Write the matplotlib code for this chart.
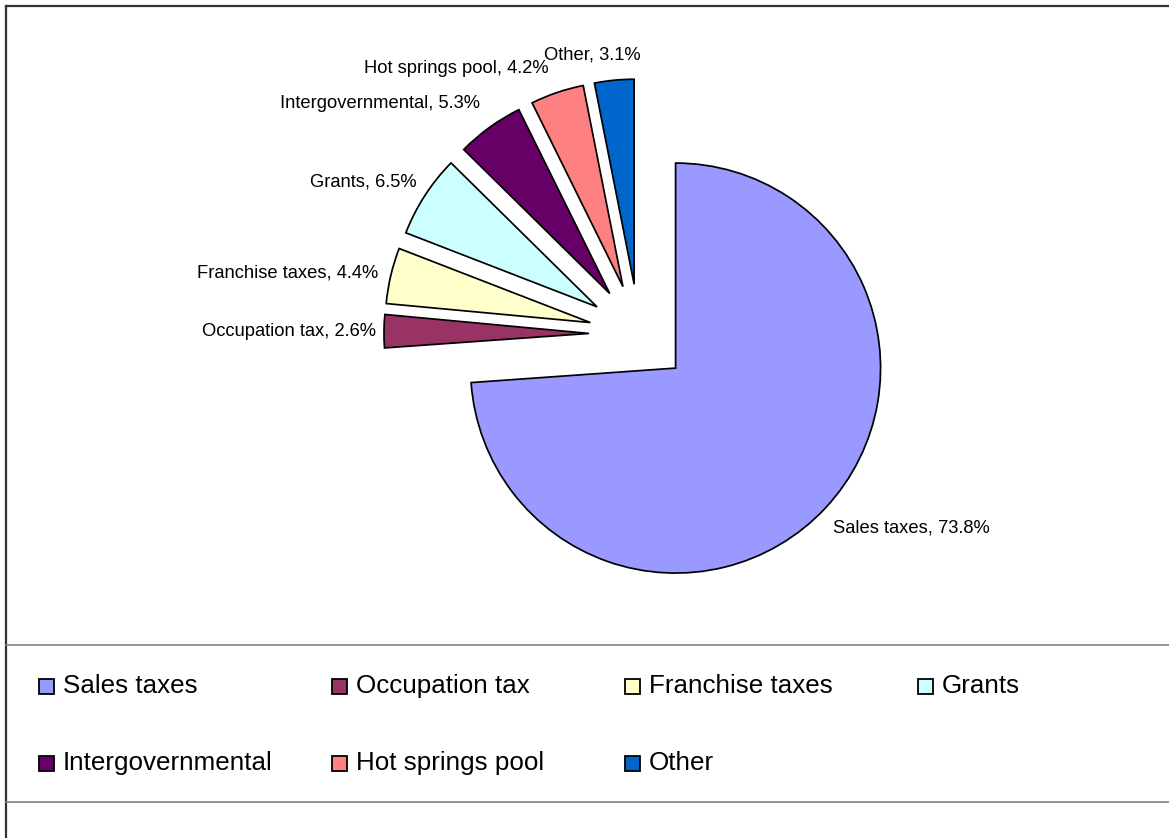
import matplotlib
matplotlib.use("Agg")
from matplotlib import pyplot as plt
from matplotlib.lines import Line2D
from matplotlib.patches import Rectangle
import numpy as np

categories = ["Sales taxes", "Occupation tax", "Franchise taxes", "Grants",
              "Intergovernmental", "Hot springs pool", "Other"]
shares = [73.8, 2.6, 4.4, 6.5, 5.3, 4.2, 3.1]
colors = ["#9999FF", "#993366", "#FFFFCC", "#CCFFFF",
          "#660066", "#FF8080", "#0066CC"]

W, H = 1169, 838
plt.rcParams['font.family'] = ['Liberation Sans', 'DejaVu Sans']

fig = plt.figure(figsize=(W / 100, H / 100), dpi=100)
ax = fig.add_axes([0, 0, 1, 1])

# pie in pixel-like data units (y up)
center = (639, H - 334)
radius = 205
wedges, _ = ax.pie(shares, colors=colors, startangle=90, counterclock=False,
                   explode=[50] * len(shares), radius=radius, center=center,
                   wedgeprops=dict(edgecolor="black", linewidth=1.25))
ax.set_xlim(0, W)
ax.set_ylim(0, H)
ax.set_aspect('equal')
ax.axis('off')

# data labels, outside end
label_dist = [274, 263, 268, 269, 280, 280, 283]
label_shift = [-2, 0, 0, -1.5, -1.3, 0, 4]
label_ha = ['left', 'right', 'right', 'right', 'right', 'right', 'center']
for w, name, val, d, sh, ha in zip(wedges, categories, shares,
                                   label_dist, label_shift, label_ha):
    mid = np.deg2rad((w.theta1 + w.theta2) / 2 + sh)
    x = center[0] + d * np.cos(mid)
    y = center[1] + d * np.sin(mid)
    ax.text(x, y, f"{name}, {val:.1f}%", ha=ha, va='center', fontsize=13.2)

# outer chart border (top / left) and legend box lines
fig.add_artist(Line2D([5.5 / W, 1], [1 - 6.5 / H, 1 - 6.5 / H],
                      color="#333333", lw=1.6))
fig.add_artist(Line2D([5.5 / W, 5.5 / W], [0, 1 - 6.5 / H],
                      color="#333333", lw=1.6))
for py in (645, 802):
    fig.add_artist(Line2D([5.5 / W, 1], [1 - py / H, 1 - py / H],
                          color="#808080", lw=1.2))

# legend, row-major, 4 columns
col_x = [39, 332, 625, 918]
row_y = [686, 763]
sq = 15
for i, (name, c) in enumerate(zip(categories, colors)):
    px = col_x[i % 4]
    py = row_y[i // 4]
    fig.add_artist(Rectangle((px / W, 1 - (py + sq / 2) / H), sq / W, sq / H,
                             facecolor=c, edgecolor="black", lw=1.3))
    fig.text((px + sq + 9) / W, 1 - py / H, name, ha='left', va='center',
             fontsize=18.7)

fig.savefig("out.png", dpi=100)
